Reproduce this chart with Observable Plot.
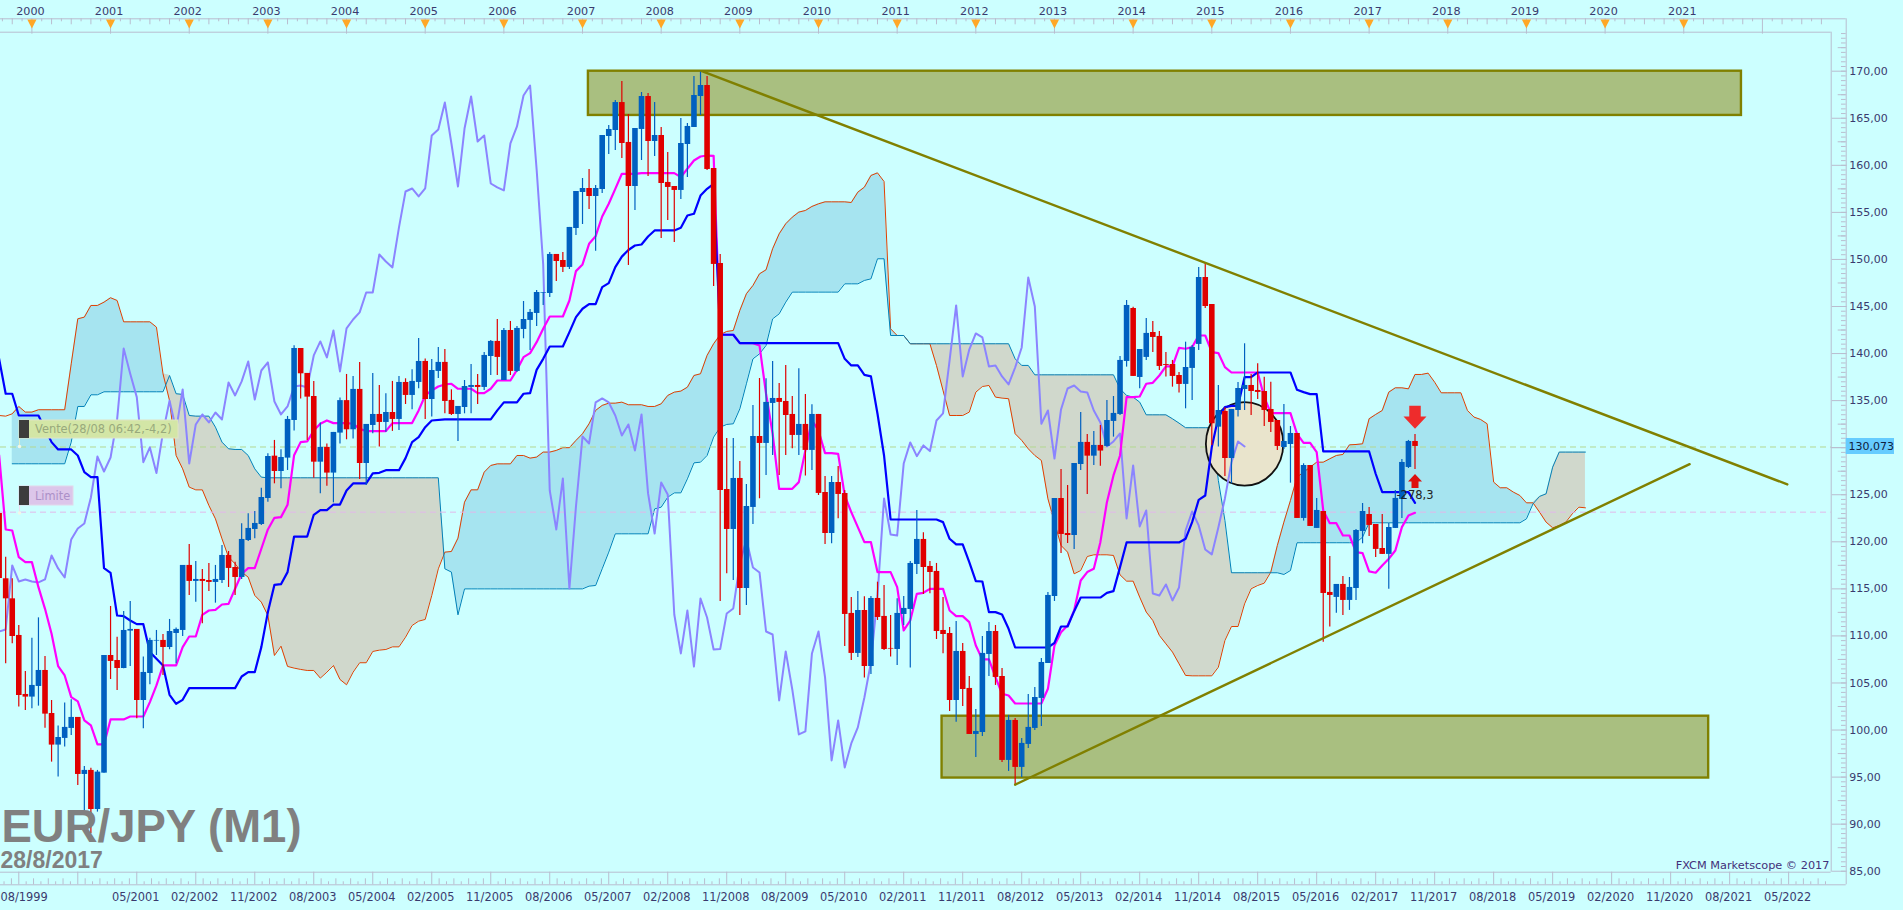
<!DOCTYPE html>
<html><head><meta charset="utf-8">
<style>html,body{margin:0;padding:0;background:#ccffff;overflow:hidden}svg{display:block}</style>
<script src="https://cdn.jsdelivr.net/npm/d3@7"></script>
<script src="https://cdn.jsdelivr.net/npm/@observablehq/plot@0.6"></script>
</head><body><div id="chart"></div>
<script>
// Month index: 0 = January 2000. Candle arrays start at index -5 (August 1999), one value per month.
const firstMonth = -5;
const candleSide =
 "rrrrrbbrrb"+"bbrbrbbrrb"+"brbbbrbbbr"+"brrbbrrbbb"+"bbrbbbrrrb"+"rbbrbrbbrb"+"rbrbbrbbrr"+"bbbrbbrbrb"+
 "bbbbbrrbbb"+"rbbbbrrbbr"+"brrrbbbbrr"+"rrbrbbrbbr"+"rrbrbrrbrr"+"rbrbrrrbbb"+"brrrrrbrrb"+"bbrrbrbbbb"+
 "bbrrbbrbrb"+"bbbrbbrrrr"+"rbbbrrbrbb"+"brrrrrbbrb"+"rbrrbrbbbr"+"rrbbbbr";
const bodyTop = [
123.0,116.07,113.94,110.05,103.78,104.74,106.33,106.33,101.76,99.21,
100.28,101.34,101.34,95.71,95.71,95.53,107.92,107.92,107.39,110.58,
110.69,110.69,106.12,109.52,109.52,109.52,110.47,110.69,117.49,117.49,
116.0,116.0,115.89,116.0,118.55,118.55,117.27,120.25,121.42,121.95,
124.71,129.06,129.1,128.96,133.0,140.54,140.54,137.89,135.44,130.03,
130.03,131.62,135.0,135.0,136.19,136.19,132.47,133.53,133.53,133.74,
133.74,136.93,136.93,137.04,139.16,139.16,138.2,139.06,139.06,135.02,
134.38,136.5,136.61,136.61,139.8,141.29,141.29,142.45,142.45,142.67,
143.62,144.37,146.49,146.49,150.53,150.53,149.89,153.4,157.22,157.54,
157.54,157.54,163.17,163.81,166.67,166.67,162.43,163.91,167.31,167.31,
163.17,163.17,158.18,157.75,162.32,164.13,167.42,168.48,168.48,159.66,
149.57,125.56,126.73,126.73,123.75,131.19,131.19,134.81,135.23,135.23,
134.91,133.53,132.47,132.47,133.53,133.53,125.24,126.3,126.3,125.13,
112.39,112.7,112.7,113.98,113.98,112.07,108.67,112.39,112.92,117.7,
120.25,120.25,117.38,116.85,110.58,110.26,108.35,108.35,104.42,99.85,
108.14,110.47,110.47,105.69,101.02,101.02,98.58,100.28,103.46,107.18,
114.3,124.6,124.6,120.88,128.32,130.56,130.56,130.24,130.24,132.89,
133.64,139.27,145.11,144.79,140.43,142.14,142.24,141.82,138.84,138.84,
137.67,138.52,140.65,148.08,148.08,145.21,133.95,133.85,134.06,136.29,
136.61,136.61,136.08,135.97,134.06,132.89,130.66,131.51,131.51,128.11,
128.11,123.33,123.22,114.62,115.47,115.47,115.15,121.2,123.22,122.9,
121.84,119.29,121.52,124.61,128.43,130.66,130.66];
const bodyBottom = [
116.1,113.94,109.94,103.67,103.5,103.5,104.63,101.69,98.4,98.4,
99.11,100.17,95.28,95.28,91.56,91.56,95.42,107.29,106.54,106.54,
110.51,103.14,103.14,106.01,109.45,108.77,108.77,110.26,110.58,115.79,
115.79,115.79,115.68,115.68,115.89,117.17,116.21,116.21,120.14,121.31,
121.84,124.6,127.47,127.47,128.89,132.89,137.85,135.37,128.46,128.46,
127.3,127.3,131.55,131.9,131.9,128.32,128.32,132.36,132.68,132.68,
133.0,133.0,135.55,135.55,136.93,135.12,135.12,138.1,134.91,133.53,
133.53,134.27,136.4,136.4,136.4,139.69,139.59,137.14,138.1,138.1,
142.56,143.52,144.26,146.42,146.38,149.78,149.15,149.15,153.29,157.11,
156.69,156.69,157.43,163.06,163.7,162.32,157.75,157.75,163.81,162.53,
162.53,158.07,157.65,157.33,157.33,162.21,164.02,167.31,159.56,149.47,
125.45,121.31,121.31,115.04,115.04,123.65,130.45,130.45,134.7,134.81,
133.42,131.3,131.3,129.71,129.71,125.14,120.88,120.88,125.03,112.28,
108.14,108.14,106.75,106.75,111.96,108.56,108.6,108.56,112.28,112.81,
117.59,117.27,116.74,110.47,110.15,103.14,103.14,104.31,99.53,99.53,
99.74,108.03,105.59,96.77,96.77,96.03,96.03,98.47,100.17,103.36,
107.07,114.19,120.78,120.67,120.67,128.21,129.1,129.1,129.64,130.13,
132.79,133.53,139.16,137.57,137.46,139.59,141.71,138.63,138.74,137.57,
136.72,136.72,138.42,140.97,145.0,132.54,132.18,128.85,128.85,133.95,
136.18,135.97,135.87,133.95,132.68,130.13,130.02,130.34,122.48,122.48,
121.63,121.42,114.51,114.3,114.09,113.77,113.77,115.04,121.1,121.74,
119.19,118.66,118.66,121.42,124.5,127.9,130.13];
const wickHigh = [
123.0,118.37,116.07,111.11,106.22,109.76,111.92,107.82,103.14,100.42,
102.86,103.21,101.34,96.13,95.95,95.71,107.92,113.13,109.87,112.6,
113.66,110.69,107.75,109.76,110.58,110.15,111.75,110.83,117.49,119.72,
117.91,117.06,117.7,117.49,119.61,118.97,117.84,121.91,122.97,123.22,
125.7,129.35,130.77,129.78,133.32,140.83,140.54,137.89,137.04,132.61,
130.4,131.62,135.27,137.78,137.57,139.06,132.47,137.89,136.61,135.73,
137.04,137.57,137.32,138.27,141.6,139.41,139.37,140.65,140.43,136.15,
134.38,137.14,138.84,137.78,140.12,141.4,143.62,142.67,143.41,142.88,
145.53,144.68,146.7,146.49,150.74,150.53,150.74,153.4,157.22,158.6,
159.56,157.86,163.17,164.23,166.89,168.91,165.4,163.91,167.74,167.63,
166.67,164.02,161.36,157.75,164.97,164.44,169.44,169.9,169.44,159.66,
150.53,130.98,130.98,128.53,126.09,134.49,137.35,137.32,139.16,136.82,
138.74,135.44,138.38,135.66,134.56,133.53,126.94,126.94,128.0,125.45,
114.09,114.72,114.16,114.19,115.71,115.36,112.17,113.94,114.19,117.91,
123.33,120.95,117.91,117.7,114.09,110.9,111.54,109.2,105.69,102.19,
109.94,111.43,111.11,106.54,101.55,101.23,99.11,103.78,104.53,107.61,
114.62,124.6,127.68,125.98,128.32,133.74,131.41,131.73,132.36,135.02,
135.44,139.69,145.64,144.93,140.43,143.73,143.41,142.35,140.12,139.27,
138.0,141.21,140.86,149.15,149.68,145.21,136.61,134.24,134.06,136.93,
141.04,137.78,138.91,137.49,136.96,132.89,134.59,132.25,131.51,128.29,
128.11,124.61,123.22,118.44,115.47,116.32,116.21,121.31,124.07,123.65,
121.84,122.9,121.95,125.45,128.75,130.77,131.4];
const wickLow = [
116.1,107.04,109.16,102.44,102.08,102.26,102.54,100.2,96.59,95.0,
98.19,99.43,94.11,90.93,88.98,91.28,95.42,105.37,104.2,106.5,
106.76,101.2,100.13,104.81,107.92,105.8,108.53,107.04,109.94,114.3,
113.59,111.29,114.72,113.48,115.57,115.15,114.3,116.0,120.03,120.32,
121.73,124.21,126.16,125.63,127.58,131.76,135.16,130.77,126.76,125.1,
125.9,124.14,130.4,130.84,130.91,126.62,125.98,131.48,130.06,131.65,
131.73,131.83,134.59,134.03,136.26,133.0,133.25,137.35,133.6,133.42,
130.66,133.6,133.6,134.59,136.08,137.67,137.67,137.14,137.67,138.0,
141.57,140.33,142.88,145.11,145.96,147.66,148.62,148.93,152.55,153.71,
155.31,150.88,157.01,161.15,161.58,160.73,149.36,155.2,160.51,158.81,
160.94,152.23,154.14,151.8,156.37,158.71,164.02,165.29,159.45,147.13,
113.66,116.6,115.89,112.17,113.23,121.84,124.57,127.05,129.17,127.05,
129.17,129.88,129.17,126.98,127.58,124.92,119.72,119.79,122.44,108.88,
107.39,107.71,105.52,105.91,111.64,108.45,107.75,106.86,111.11,106.58,
116.53,114.4,114.47,109.62,108.1,101.98,100.84,102.51,99.53,97.09,
99.32,105.69,104.74,96.56,95.6,94.22,94.96,98.04,99.96,100.38,
107.07,113.66,118.76,119.82,119.18,127.58,125.03,128.11,128.04,130.06,
131.12,133.42,138.56,137.57,136.26,139.27,140.12,138.2,137.5,136.43,
135.8,134.13,135.02,140.33,144.79,130.23,130.06,126.94,126.16,133.25,
133.95,133.42,135.12,132.25,131.62,129.7,129.81,126.23,122.48,122.2,
121.63,121.42,109.34,110.94,112.42,112.17,112.71,113.77,119.79,120.57,
118.34,118.66,114.97,121.42,122.48,127.79,127.69];

// Ichimoku lines, [month, price] at each vertex.
const kijun = [[-5,139.44],[-4,135.73],[-3,135.73],[-2,133.42],[1,133.42],[3,130.59],[4,129.81],[6,129.81],[7,129.17],[8,127.4],[9,126.87],[10,126.87],[11,117.2],[12,116.7],[13,112.17],[14,112.1],[15,111.64],[16,111.25],[17,111.25],[18,108.28],[19,107.57],[20,106.86],[21,103.74],[22,102.79],[23,103.21],[24,104.45],[31,104.45],[32,105.69],[33,106.15],[34,106.15],[35,108.81],[36,112.53],[37,115.43],[38,115.5],[39,116.78],[40,120.56],[42,120.56],[43,122.87],[44,123.36],[45,123.36],[46,123.96],[47,123.96],[48,125.45],[49,126.2],[51,126.2],[52,127.26],[53,127.33],[54,127.61],[56,127.61],[57,128.89],[58,130.59],[59,131.12],[60,132.18],[61,132.89],[63,133.0],[70,133.0],[71,133.96],[72,134.81],[74,134.81],[75,135.73],[76,135.8],[77,138.27],[78,139.44],[79,140.75],[81,140.75],[82,142.28],[83,143.87],[84,144.76],[85,145.25],[86,145.25],[87,147.06],[88,147.48],[89,149.18],[90,150.3],[91,151.0],[92,151.48],[93,151.59],[94,152.44],[95,153.08],[98,153.08],[99,153.36],[100,154.67],[101,154.85],[102,156.79],[103,157.5],[104,158.03],[105,142.0],[107,142.0],[108,141.11],[123,141.11],[124,139.44],[125,138.74],[126,138.74],[127,137.74],[128,137.57],[129,133.6],[130,129.17],[131,122.37],[138,122.37],[139,122.09],[140,120.32],[141,119.72],[142,119.72],[143,117.84],[144,115.82],[145,115.78],[146,112.53],[147,112.53],[148,112.28],[149,110.76],[150,108.77],[155,108.77],[156,109.27],[157,111.0],[158,111.0],[159,112.63],[160,114.08],[163,114.08],[164,114.58],[165,114.76],[166,117.31],[167,119.93],[175,119.93],[176,120.32],[177,122.09],[178,124.46],[179,124.92],[180,130.06],[181,133.25],[182,134.31],[183,134.45],[184,134.45],[185,137.49],[186,137.49],[187,137.99],[192,137.99],[193,136.15],[194,135.9],[195,135.69],[196,135.69],[197,129.6],[204,129.6],[205,127.23],[206,125.28],[210,125.28],[211,124.14]];
const tenkan = [[-5,129.2],[-4,121.31],[-3,121.2],[-2,118.37],[-1,117.84],[0,117.84],[1,115.18],[2,112.88],[3,110.23],[4,106.79],[5,105.8],[6,103.5],[7,103.04],[8,101.02],[9,100.49],[10,98.47],[11,98.47],[12,101.13],[14,101.13],[15,101.44],[17,101.44],[18,102.97],[19,104.74],[20,106.86],[22,106.86],[23,108.81],[24,109.94],[25,109.94],[26,112.24],[27,112.7],[28,112.77],[29,113.34],[30,113.41],[31,115.01],[32,116.6],[33,117.2],[34,117.2],[35,119.26],[36,121.31],[37,122.55],[38,122.62],[39,123.93],[40,129.2],[41,130.59],[42,130.66],[43,131.83],[44,132.54],[45,132.89],[46,132.61],[48,132.61],[49,132.54],[50,132.01],[51,131.76],[54,131.76],[55,132.61],[58,132.61],[59,133.96],[60,135.55],[61,136.08],[62,136.5],[63,136.72],[64,136.79],[65,136.26],[67,136.26],[68,135.8],[69,135.8],[70,136.26],[71,137.14],[73,137.14],[74,138.27],[75,139.62],[76,140.05],[77,141.21],[78,142.63],[79,143.94],[81,143.94],[82,145.64],[83,148.76],[84,149.47],[85,151.66],[86,152.47],[87,154.56],[88,155.91],[89,157.5],[90,159.1],[92,159.1],[93,159.17],[98,159.17],[99,158.74],[100,159.63],[101,160.51],[102,160.94],[103,161.04],[104,161.0],[105,142.0],[107,142.0],[108,141.11],[110,141.11],[111,140.86],[112,135.73],[113,131.48],[114,125.63],[116,125.63],[117,126.34],[118,129.71],[119,132.9],[120,131.83],[121,129.42],[122,129.42],[123,129.35],[124,124.92],[125,123.15],[126,121.56],[127,119.96],[128,119.96],[129,116.78],[131,116.78],[132,115.18],[133,110.58],[134,111.64],[135,114.47],[136,114.58],[137,115.0],[139,115.0],[140,112.7],[141,112.1],[142,112.1],[143,111.46],[144,108.99],[145,107.5],[146,107.5],[147,105.62],[148,103.85],[149,103.67],[150,102.82],[154,102.82],[155,104.38],[156,108.99],[157,110.4],[158,111.1],[159,112.7],[160,115.89],[161,116.78],[162,117.13],[163,119.96],[164,124.21],[165,127.05],[166,129.17],[167,135.37],[168,135.37],[169,135.44],[170,136.79],[171,136.89],[172,137.67],[173,138.63],[174,138.63],[175,140.61],[176,140.51],[177,140.68],[178,141.92],[179,141.92],[180,140.15],[181,140.05],[182,138.56],[183,137.99],[187,137.99],[188,135.37],[189,133.67],[192,133.67],[193,131.47],[194,130.52],[195,130.52],[196,129.53],[197,123.33],[198,121.98],[199,121.98],[200,120.67],[201,120.67],[202,118.9],[203,118.8],[204,116.85],[205,116.71],[206,117.49],[207,118.2],[208,119.08],[209,121.56],[210,122.8],[211,123.08]];

// Cloud edges drawn 26 months ahead: senkouA starts at month -5, senkouB at month -3.
const senkouA = [
133.42,133.35,133.6,134.38,133.78,133.78,134.03,134.03,134.03,134.03,
134.03,138.91,143.69,143.87,145.11,145.11,145.46,145.93,145.64,143.37,
143.37,143.37,143.37,143.37,142.81,137.85,135.0,129.17,127.75,125.81,
125.52,125.52,123.86,122.44,120.32,118.37,117.66,116.78,116.24,114.3,
113.59,112.17,107.92,108.91,106.76,106.58,106.44,106.33,106.33,105.52,
106.15,106.86,105.37,104.81,106.15,107.15,107.15,108.35,108.49,108.56,
108.84,108.84,109.87,111.11,111.57,111.75,114.3,117.13,118.9,118.97,
120.39,124.21,125.52,125.52,127.4,128.11,128.28,128.28,128.28,129.17,
129.17,128.89,129.0,129.53,129.53,129.71,130.0,130.0,130.77,131.48,
132.54,133.96,134.49,134.73,134.73,134.84,134.56,134.56,134.56,134.38,
134.38,134.66,135.55,135.9,136.01,136.43,137.67,137.85,139.8,141.04,
142.0,142.35,142.45,144.58,146.35,147.23,148.47,148.9,151.13,152.72,
153.79,154.49,155.03,155.2,155.63,155.91,156.12,156.12,156.12,156.12,
156.05,157.15,157.68,158.92,159.2,158.28,142.63,141.92,141.92,141.04,
141.04,141.04,141.04,138.73,136.08,133.42,133.42,133.42,133.78,135.9,
136.5,136.61,135.37,135.27,135.2,131.48,130.77,129.88,129.17,128.64,
124.57,122.09,119.61,118.9,116.6,116.95,118.44,118.62,118.62,118.62,
118.55,116.49,115.82,115.82,114.12,112.53,111.64,110.05,109.16,108.28,
107.04,105.8,105.76,105.76,105.76,105.76,106.68,109.52,111.0,111.0,
113.41,115.01,115.36,115.61,116.78,119.61,122.09,124.39,126.87,127.4,
127.93,128.46,128.46,128.82,129.17,129.28,130.3,130.34,130.41,133.07,
133.53,133.95,135.9,136.36,136.36,136.25,137.78,137.78,137.92,136.96,
135.83,135.83,135.83,135.83,133.95,133.25,133.0,132.54,126.34,125.74,
125.74,125.28,124.92,124.14,124.14,123.15,122.09,121.49,121.74,122.09,
122.98,123.68,123.61];
const senkouB = [
128.29,128.29,128.29,128.29,128.29,128.29,128.29,128.29,128.29,130.59,
134.38,134.38,135.62,135.62,135.94,135.94,135.94,135.94,135.94,135.94,
135.94,135.94,135.94,135.94,137.67,135.73,135.66,133.42,133.35,133.35,
133.35,132.18,130.59,129.88,129.81,129.81,129.17,127.75,126.87,126.8,
126.8,126.8,126.8,126.8,126.8,126.8,126.8,126.8,126.8,126.8,
126.8,126.8,126.8,126.8,126.8,126.8,126.8,126.8,126.8,126.8,
126.8,126.8,126.8,126.8,126.8,126.8,117.13,116.78,112.24,115.0,
115.0,115.0,115.0,115.0,115.0,115.0,115.0,115.0,115.0,115.0,
115.0,115.0,115.0,115.0,115.0,115.0,115.0,115.0,115.29,115.36,
117.13,118.9,120.85,120.85,120.85,120.85,120.85,120.85,123.5,123.68,
124.74,125.2,125.2,126.69,128.39,128.46,129.17,131.12,132.18,132.47,
132.54,134.13,136.79,139.44,139.97,140.86,143.69,144.22,145.46,146.53,
146.53,146.53,146.53,146.53,146.53,146.53,146.53,147.41,147.41,147.41,
147.77,147.94,150.07,150.07,141.92,141.92,141.92,141.04,141.04,141.04,
141.04,141.04,141.04,141.04,141.04,141.04,141.04,141.04,141.04,141.04,
141.04,141.04,141.04,139.44,138.74,138.74,137.74,137.74,137.74,137.74,
137.74,137.74,137.74,137.74,137.74,137.74,137.74,137.74,137.74,136.26,
135.55,135.37,134.84,133.49,133.49,133.49,133.49,133.07,132.61,132.12,
132.12,132.12,132.12,132.12,126.52,122.27,116.71,116.71,116.71,116.71,
116.71,116.71,116.71,116.71,116.53,116.95,119.9,119.9,119.9,119.9,
119.9,119.9,119.9,119.9,119.9,119.9,120.5,122.02,122.02,122.02,
122.02,122.02,122.02,122.02,122.02,122.02,122.02,122.02,122.02,122.02,
122.02,122.02,122.02,122.02,122.02,122.02,122.02,122.02,122.02,122.02,
122.02,122.44,124.04,124.82,125.1,127.93,129.53,129.53,129.53,129.53,
129.53];

const priceTicks = [85,90,95,100,105,110,115,120,125,130,135,140,145,150,155,160,165,170];
const yearLabels = [2000,2001,2002,2003,2004,2005,2006,2007,2008,2009,2010,2011,2012,2013,2014,2015,2016,2017,2018,2019,2020,2021];
const dateTicks = [16,25,34,43,52,61,70,79,88,97,106,115,124,133,142,151,160,169,178,187,196,205,214,223,232,241,250,259,268];
const dateLabels = ["05/2001","02/2002","11/2002","08/2003","05/2004","02/2005","11/2005","08/2006","05/2007","02/2008","11/2008","08/2009","05/2010","02/2011","11/2011","08/2012","05/2013","02/2014","11/2014","08/2015","05/2016","02/2017","11/2017","08/2018","05/2019","02/2020","11/2020","08/2021","05/2022"];

const zones = [
  {from: 84.9, to: 260.8, top: 170, bottom: 165.3},
  {from: 138.85, to: 255.8, top: 101.47, bottom: 94.9}
];
const trendLines = [
  [{m: 102.2, p: 170}, {m: 267.8, p: 126.1}],
  [{m: 150, p: 94.2}, {m: 252.9, p: 128.25}]
];
const lastPrice = 130.073, limitPrice = 123.15;

// Page geometry of the chart frame and the helpers that place its furniture.
const frameRight = 1830.7, axisRight = 1845.7, topBand = [18.3, 31.7], botBand = [871.7, 884.3];
const month0 = 31.4, monthW = 6.555, p170 = 70.7, unitH = 9.412;
const mAt = px => (px - month0) / monthW;
const pAt = py => 170 - (py - p170) / unitH;
const K = v => () => v;
const one = [0];

const candles = d3.range(candleSide.length).map(i => ({
  m: firstMonth + i, side: candleSide[i], top: bodyTop[i], bottom: bodyBottom[i], high: wickHigh[i], low: wickLow[i]
}));
// The lagging span is each month's close drawn 26 months back.
const lagging = candles.map(c => ({m: c.m - 26, p: c.side === "b" ? c.top : c.bottom}));
const cloud = senkouA.map((a, i) => {
  const b = i >= 2 ? senkouB[i - 2] : null;
  return {m: firstMonth + i, a, b, hi: b == null ? null : Math.max(a, b)};
});
const cloudB = cloud.filter(d => d.b != null);

const GRID = "#b9bdcf", INK = "#3a3a6e";
const FONT = "'DejaVu Sans', Verdana, sans-serif";

const triDown = {draw(c, size){const s = Math.sqrt(size / Math.PI); c.moveTo(-s, -s); c.lineTo(s, -s); c.lineTo(0, s); c.closePath();}};
const arrowDown = {draw(c, size){const s = Math.sqrt(size / Math.PI);
  c.moveTo(-s*.5,-s); c.lineTo(s*.5,-s); c.lineTo(s*.5,-s*.05); c.lineTo(s,-s*.05); c.lineTo(0,s); c.lineTo(-s,-s*.05); c.lineTo(-s*.5,-s*.05); c.closePath();}};
const arrowUp = {draw(c, size){const s = Math.sqrt(size / Math.PI);
  c.moveTo(-s*.5,s); c.lineTo(s*.5,s); c.lineTo(s*.5,s*.05); c.lineTo(s,s*.05); c.lineTo(0,-s); c.lineTo(-s,s*.05); c.lineTo(-s*.5,s*.05); c.closePath();}};
// Slightly tall ellipse: the highlight circle is 38.7 wide by 41.7 tall at radius 40.
const tallEllipse = {draw(c, size){const s = Math.sqrt(size / Math.PI), a = s * 0.9675, b = s * 1.0425, k = 0.5523;
  c.moveTo(a, 0);
  c.bezierCurveTo(a, b*k, a*k, b, 0, b); c.bezierCurveTo(-a*k, b, -a, b*k, -a, 0);
  c.bezierCurveTo(-a, -b*k, -a*k, -b, 0, -b); c.bezierCurveTo(a*k, -b, a, -b*k, a, 0); c.closePath();}};

const hLine = (py, x0, x1, o = {}) => Plot.ruleY(one, {y: K(pAt(py)), x1: K(mAt(x0)), x2: K(mAt(x1)), stroke: GRID, strokeWidth: 1, ...o});
const vLine = (px, y0, y1, o = {}) => Plot.ruleX(one, {x: K(mAt(px)), y1: K(pAt(y0)), y2: K(pAt(y1)), stroke: GRID, strokeWidth: 1, ...o});
const label = (px, py, text, o = {}) => Plot.text(one, {x: K(mAt(px)), y: K(pAt(py)), text: K(text), ...o});
const box = (x0, x1, y0, y1, o = {}) => Plot.rect(one, {x1: K(mAt(x0)), x2: K(mAt(x1)), y1: K(pAt(y0)), y2: K(pAt(y1)), ...o});

const up = candles.filter(c => c.side === "b"), down = candles.filter(c => c.side === "r");
const wicks = (d, stroke) => Plot.ruleX(d, {x: "m", y1: "low", y2: "high", stroke, strokeWidth: 1.2});
const bodies = (d, stroke) => Plot.ruleX(d, {x: "m", y1: "bottom", y2: "top", stroke, strokeWidth: 5.6});

const shortTicks = d3.range(-4.5, 274, 1.5).filter(m => Math.abs(m % 3) > 0.1);
const longTicks = d3.range(-3, 274, 3).filter(m => m % 12 !== 0);
const yearTicks = d3.range(0, 265, 12);
const bottomMinor = d3.range(-11, 274, 1.125).filter((m, i) => (i % 8) !== 0);

const svg = Plot.plot({
  width: 1903, height: 910,
  marginTop: topBand[1], marginRight: 1903 - frameRight, marginBottom: 910 - botBand[0], marginLeft: 0,
  x: {domain: [mAt(0), mAt(frameRight)], range: [0, frameRight]},
  y: {domain: [170, 85], range: [p170, p170 + 85 * unitH]},
  style: {background: "#ccffff", fontFamily: FONT, fontSize: "11px", overflow: "hidden"},
  marks: [
    // cloud
    Plot.areaY(cloudB, {x: "m", y1: "b", y2: "hi", fill: "#a6e4f0"}),
    Plot.areaY(cloudB, {x: "m", y1: "a", y2: "hi", fill: "#d0d8cc"}),
    Plot.line(cloud, {x: "m", y: "a", stroke: "#e04000", strokeWidth: 1, curve: "linear"}),
    Plot.line(cloudB, {x: "m", y: "b", stroke: "#0080b8", strokeWidth: 1, curve: "linear"}),
    // order levels
    Plot.ruleY([lastPrice], {x1: K(mAt(0)), x2: K(mAt(frameRight)), stroke: "#b4d890", strokeWidth: 1, strokeDasharray: "6,4"}),
    Plot.ruleY([limitPrice], {x1: K(mAt(0)), x2: K(mAt(frameRight)), stroke: "#e2b8ea", strokeWidth: 1, strokeDasharray: "6,4"}),
    // zones and circle
    Plot.rect(zones, {x1: "from", x2: "to", y1: "bottom", y2: "top", fill: "#a9bf80", stroke: "#808000", strokeWidth: 2.4}),
    Plot.dot([{m: 185, p: 130.4}], {x: "m", y: "p", r: 40, symbol: tallEllipse, fill: "#e9e4cc", stroke: "#111", strokeWidth: 1.8}),
    // indicator lines
    Plot.line(lagging, {x: "m", y: "p", stroke: "#8b84ff", strokeWidth: 2}),
    Plot.line(tenkan, {x: d => d[0], y: d => d[1], stroke: "#ff00ff", strokeWidth: 2.2}),
    Plot.line(kijun, {x: d => d[0], y: d => d[1], stroke: "#0000ff", strokeWidth: 2.2}),
    // candles
    wicks(up, "#0060c0"), wicks(down, "#e00000"),
    bodies(up, "#0060c0"), bodies(down, "#e00000"),
    // trend lines
    ...trendLines.map(l => Plot.line(l, {x: "m", y: "p", stroke: "#808000", strokeWidth: 2.4})),
    // order arrows and value
    Plot.dot([{m: 211, p: 133.24}], {x: "m", y: "p", r: 11.5, symbol: arrowDown, fill: "#ee2c2c", stroke: "none"}),
    Plot.dot([{m: 211, p: 126.45}], {x: "m", y: "p", r: 7, symbol: arrowUp, fill: "#dd1010", stroke: "none"}),
    Plot.text([{m: 211, p: 124.99, t: "-278,3"}], {x: "m", y: "p", text: "t", fill: "#222", fontSize: 11.5}),
    // top time band
    hLine(topBand[0], 0, axisRight), hLine(topBand[1], 0, frameRight),
    Plot.ruleX(shortTicks, {x: d => d, y1: K(pAt(topBand[0])), y2: K(pAt(topBand[0] + 3)), stroke: GRID}),
    Plot.ruleX(longTicks, {x: d => d, y1: K(pAt(topBand[0])), y2: K(pAt(topBand[0] + 6)), stroke: GRID}),
    Plot.ruleX(yearTicks, {x: d => d, y1: K(pAt(topBand[0])), y2: K(pAt(topBand[1] + 2)), stroke: GRID}),
    Plot.dot(yearTicks.slice(0, yearLabels.length), {x: d => d, y: K(pAt(23.5)), r: 4.6, symbol: triDown, fill: "#ffa726", stroke: "none"}),
    Plot.axisX(yearTicks.slice(0, yearLabels.length), {anchor: "top", tickSize: 0, tickPadding: 17, dx: -1.5, label: null,
      tickFormat: m => String(2000 + m / 12), fill: INK, fontSize: 11.2}),
    // bottom time band
    hLine(botBand[0], 0, frameRight), hLine(botBand[1], 0, axisRight),
    Plot.ruleX(d3.range(-2, 274, 9), {x: d => d, y1: K(pAt(botBand[0])), y2: K(pAt(botBand[1])), stroke: GRID}),
    Plot.ruleX(bottomMinor, {x: d => d, y1: K(pAt(botBand[1])), y2: (d, i) => pAt(botBand[1] - (i % 2 ? 3 : 6)), stroke: GRID}),
    Plot.axisX(dateTicks, {anchor: "bottom", tickSize: 0, tickPadding: 21, dx: -1, label: null,
      tickFormat: m => dateLabels[dateTicks.indexOf(m)], fill: INK, fontSize: 11.4}),
    label(0, 897, "08/1999", {textAnchor: "start", fill: INK, fontSize: 11.4}),
    // price axis
    vLine(frameRight, topBand[1], botBand[0]), vLine(axisRight, topBand[0], botBand[1]),
    Plot.ruleY(d3.range(85, 174.1, 0.5), {y: d => d, x1: K(mAt(axisRight - 4.7)), x2: K(mAt(axisRight)), stroke: GRID}),
    Plot.ruleY(d3.range(87.5, 174, 5), {y: d => d, x1: K(mAt(axisRight - 8)), x2: K(mAt(axisRight)), stroke: GRID}),
    Plot.axisY(priceTicks, {anchor: "right", tickSize: 15, tickPadding: 3, label: null, stroke: GRID,
      tickFormat: p => p === 130 ? "" : p.toFixed(2).replace(".", ","), fill: INK, fontSize: 11, textStroke: "none"}),
    hLine(447.1, frameRight, axisRight),
    box(axisRight, 1894, 438, 454, {fill: "#66ccff"}),
    label(1848, 446.2, "130,073", {textAnchor: "start", fill: "#102040", fontSize: 11}),
    // order tags
    vLine(19, 438, 447, {stroke: "#dfeec8"}), vLine(19, 505, 513, {stroke: "#ecdcf2"}),
    Plot.dot([pAt(446), pAt(512.5)], {x: K(mAt(19)), y: d => d, r: 1.8, fill: "#f0f8e8", stroke: "none"}),
    box(19, 178, 420, 438, {fill: "#d3e6a6", stroke: "#dfe4c4", strokeWidth: 1}),
    box(19, 29, 420, 438, {fill: "#3c3c3c"}),
    label(34.5, 429, "Vente(28/08 06:42,-4,2)", {textAnchor: "start", fill: "#98a97c", fontSize: 11.4}),
    box(19, 73, 486, 505, {fill: "#dcc6ea", stroke: "#e2d8ea", strokeWidth: 1}),
    box(19, 29, 486, 505, {fill: "#3c3c3c"}),
    label(34.5, 495.5, "Limite", {textAnchor: "start", fill: "#ac90c8", fontSize: 11.4}),
    // captions
    label(1, 827, "EUR/JPY (M1)", {textAnchor: "start", fill: "#808080", fontSize: 45.5, fontWeight: "bold", fontFamily: "'Liberation Sans', Arial, sans-serif"}),
    label(0, 860, "28/8/2017", {textAnchor: "start", fill: "#808080", fontSize: 23, fontWeight: "bold", fontFamily: "'Liberation Sans', Arial, sans-serif"}),
    label(1829, 864.5, "FXCM Marketscope © 2017", {textAnchor: "end", fill: "#42307a", fontSize: 11.3})
  ]
});
document.getElementById("chart").append(svg);
</script></body></html>
